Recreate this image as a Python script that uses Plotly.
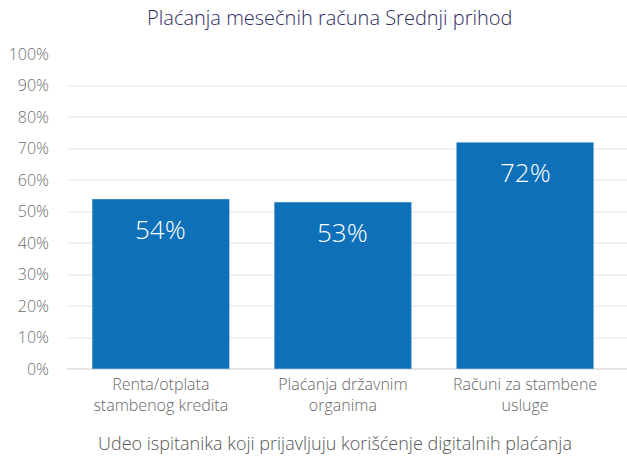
import plotly.graph_objects as go

categories = ["Renta/otplata<br>stambenog kredita", "Plaćanja državnim<br>organima", "Računi za stambene<br>usluge"]
values = [0.54, 0.53, 0.72]
labels = ["54%", "53%", "72%"]
y_ticks = [i / 10 for i in range(11)]
title_text = "Plaćanja mesečnih računa Srednji prihod"
x_title = "Udeo ispitanika koji prijavljuju korišćenje digitalnih plaćanja"

fig = go.Figure()
fig.add_trace(go.Bar(x=[0, 1, 2], y=values, marker_color="#0d70b8", width=0.755,
                     hoverinfo="skip"))

for i, (v, t) in enumerate(zip(values, labels)):
    fig.add_annotation(x=i, y=v, text=t, showarrow=False, yanchor="middle", yshift=-30,
                       font=dict(size=26, color="white", family="Open Sans", weight=300))

fig.add_annotation(xref="paper", yref="paper", x=0.479, y=-0.235, xanchor="center", yanchor="middle",
                   text=x_title, showarrow=False,
                   font=dict(size=18, color="#555555", family="Open Sans", weight=300))

fig.update_layout(
    width=627, height=456,
    margin=dict(l=67, r=0, t=54, b=87, autoexpand=False),
    plot_bgcolor="white", paper_bgcolor="white",
    showlegend=False,
    title=dict(text=title_text, x=0.526, xanchor="center", xref="container",
               y=0.96, yanchor="middle", yref="container", automargin=False,
               font=dict(size=20, color="#2e2d62", family="Open Sans", weight=300)),
    font=dict(family="Open Sans", color="#666666"),
)
fig.update_yaxes(range=[0, 1.0], tickvals=y_ticks, tickformat=".0%", automargin=False,
                 gridcolor="#f2f2f2", gridwidth=2, zeroline=True, zerolinecolor="#e4e4e4",
                 zerolinewidth=2, tickfont=dict(size=16, color="#6e6e6e", weight=300),
                 ticklabelstandoff=17)
fig.update_xaxes(range=[-0.515, 2.56], tickvals=[0, 1, 2], ticktext=categories, automargin=False,
                 showgrid=False, zeroline=False,
                 tickfont=dict(size=16, color="#666666", weight=300), ticklabelstandoff=4)

fig.write_html("out.html", config={"displayModeBar": False},
               post_script="document.body.style.margin='0';document.body.style.overflow='hidden';")
